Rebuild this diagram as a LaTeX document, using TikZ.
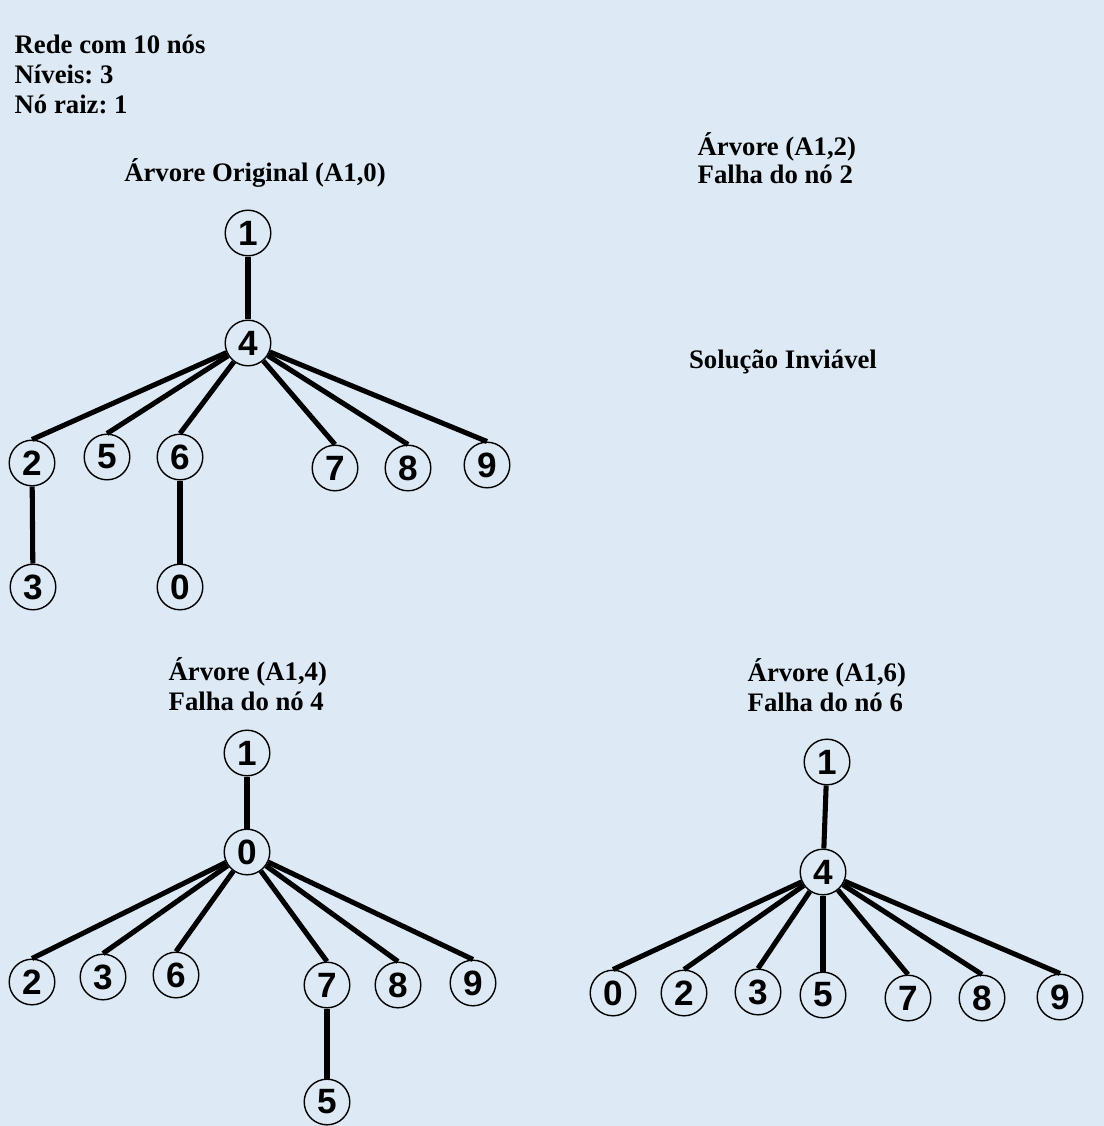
\documentclass[tikz,border=0pt]{standalone}
\usepackage{fontspec}
\setmainfont{Liberation Serif}
\newfontfamily\digitos{Liberation Sans}
\usepackage{tikz}
\usetikzlibrary{positioning}
\usetikzlibrary{backgrounds}
\definecolor{fundo}{RGB}{221,233,244}
\tikzset{every picture/.style={line width=1pt}}
\frenchspacing

\begin{document}
\begin{tikzpicture}[x=0.025cm,y=-0.025cm,
  no/.style={circle,draw,line width=1pt,fill=fundo,minimum size=1.14cm,inner sep=0pt,font=\digitos\bfseries\fontsize{25}{25}\selectfont},
  texto/.style={font=\bfseries\fontsize{19}{21}\selectfont,inner sep=0pt},
  aresta/.style={line width=3.6pt}]
\fill[fundo] (0,0) rectangle (1104,1126);
\useasboundingbox (0,0) rectangle (1104,1126);
% dados da rede
\foreach \t [count=\i] in {Rede com 10 nós,Níveis: 3,Nó raiz: 1}
  \node[texto,anchor=base west] (info\i) at (14,23+30*\i) {\t};

% arvore original
\node[texto,anchor=base] (ta) at (255,181) {Árvore Original (A1,0)};
\node[no] (a1) at (248,233) {1};
\node[no] (a4) at (248,343) {4};
\node[no] (a2) at (32,463) {2};
\node[no] (a5) at (107,457) {5};
\node[no] (a6) at (180,457) {6};
\node[no] (a7) at (335,468) {7};
\node[no] (a8) at (408,468) {8};
\node[no] (a9) at (487,465) {9};
\node[no] (a3) at (33,587) {3};
\node[no] (a0) at (180,587) {0};
\draw[aresta] (a1) -- (a4);
\foreach \f in {2,5,6,7,8,9}
  \draw[aresta] (a4) -- (a\f.north);
\draw[aresta] (a2) -- (a3);
\draw[aresta] (a6) -- (a0);

% falha do no 2
\node[texto,anchor=base west] (tb) at (697,155) {Árvore (A1,2)};
\node[texto,anchor=base west] (fb) at (697,183) {Falha do nó 2};
\node[texto,anchor=base] (inv) at (783,368) {Solução Inviável};

% falha do no 4
\node[texto,anchor=base west] (tc) at (168,680) {Árvore (A1,4)};
\node[texto,anchor=base west] (fc) at (168,710) {Falha do nó 4};
\node[no] (b1) at (247,753) {1};
\node[no] (b0) at (247,852) {0};
\node[no] (b2) at (32,982) {2};
\node[no] (b3) at (103,977) {3};
\node[no] (b6) at (176,975) {6};
\node[no] (b7) at (327,985) {7};
\node[no] (b8) at (398,985) {8};
\node[no] (b9) at (473,983) {9};
\node[no] (b5) at (327,1102) {5};
\draw[aresta] (b1) -- (b0);
\foreach \f in {2,3,6,7,8,9}
  \draw[aresta] (b0) -- (b\f.north);
\draw[aresta] (b7) -- (b5);

% falha do no 6
\node[texto,anchor=base west] (td) at (747,681) {Árvore (A1,6)};
\node[texto,anchor=base west] (fd) at (747,711) {Falha do nó 6};
\node[no] (c1) at (827,762) {1};
\node[no] (c4) at (823,872) {4};
\node[no] (c0) at (613,993) {0};
\node[no] (c2) at (684,993) {2};
\node[no] (c3) at (758,992) {3};
\node[no] (c5) at (823,995) {5};
\node[no] (c7) at (908,998) {7};
\node[no] (c8) at (982,998) {8};
\node[no] (c9) at (1060,997) {9};
\draw[aresta] (c1) -- (c4);
\foreach \f in {0,2,3,5,7,8,9}
  \draw[aresta] (c4) -- (c\f.north);
\end{tikzpicture}
\end{document}
